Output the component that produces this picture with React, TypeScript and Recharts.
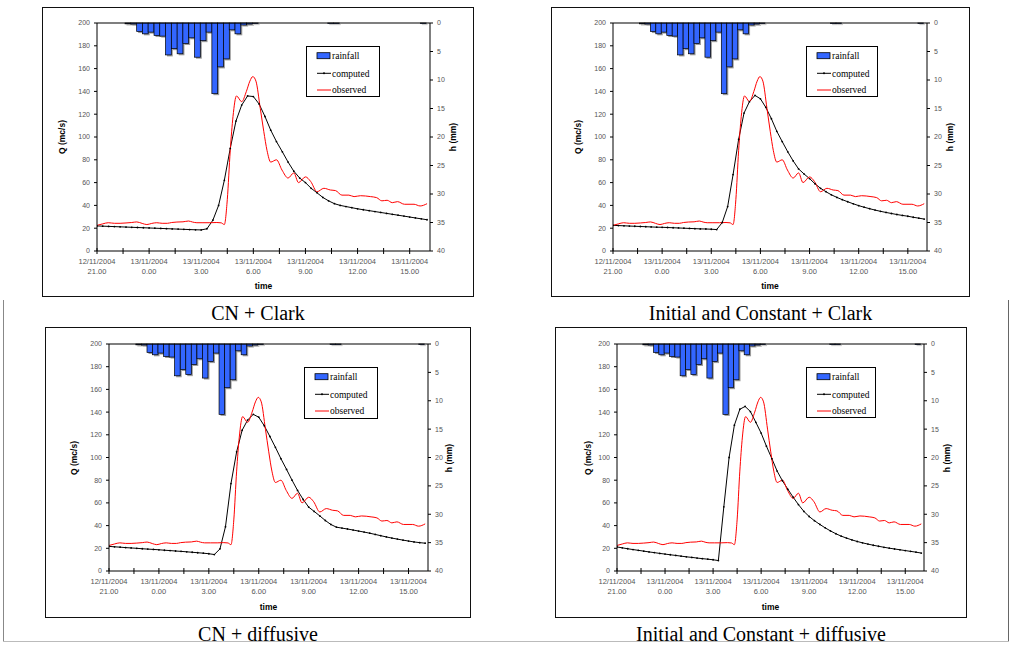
import React from "react";
import { ComposedChart, Bar, Line, XAxis, YAxis, ReferenceLine } from "recharts";

// time axis: hours after 12/11/2004 21.00
const T_END = 19.17;

const xTicks = [0, 1.5, 3, 4.5, 6, 7.5, 9, 10.5, 12, 13.5, 15, 16.5, 18];
const dateLabels = ["12/11/2004", "13/11/2004", "13/11/2004", "13/11/2004", "13/11/2004", "13/11/2004", "13/11/2004"];
const hourLabels = ["21.00", "0.00", "3.00", "6.00", "9.00", "12.00", "15.00"];
const qTicks = [0, 20, 40, 60, 80, 100, 120, 140, 160, 180, 200];
const hTicks = [0, 5, 10, 15, 20, 25, 30, 35, 40];

// rainfall (mm per 20 min)
const rainHours = [1.78, 2.11, 2.45, 2.78, 3.11, 3.45, 3.78, 4.11, 4.45, 4.78, 5.11, 5.45, 5.78, 6.11, 6.45, 6.78, 7.11, 7.45, 7.78, 8.11, 8.45, 8.78, 9.11, 13.45, 13.78, 18.78];
const rainMm = [0.15, 0.2, 1.5, 1.9, 1.6, 2.2, 2.3, 5.6, 4.5, 5.4, 3.6, 2.6, 6.0, 3.1, 1.6, 12.4, 7.7, 6.3, 1.2, 1.9, 0.35, 0.2, 0.1, 0.1, 0.1, 0.1];

// observed discharge (mc/s)
const obsHours = [0, 0.33, 0.65, 1, 1.33, 1.67, 2, 2.29, 2.6, 2.87, 3.15, 3.44, 3.75, 4.05, 4.3, 4.6, 4.95, 5.27, 5.5, 5.75, 6.1, 6.5, 6.9, 7.15, 7.33, 7.5, 7.67, 7.83, 8.03, 8.33, 8.6, 8.8, 8.97, 9.15, 9.4, 9.6, 9.79, 10.0, 10.33, 10.65, 11.0, 11.33, 11.6, 12.0, 12.3, 12.67, 13.06, 13.44, 13.73, 14.1, 14.5, 14.8, 15.17, 15.75, 16.1, 16.4, 16.7, 17.0, 17.3, 17.7, 18.25, 18.6, 19.0];
const obsQ = [22.5, 23.8, 24.8, 24.3, 24.3, 24.6, 25.0, 25.5, 24.2, 23.2, 24.2, 24.8, 24.3, 24.3, 25.0, 25.4, 25.6, 26.3, 25.4, 24.8, 24.8, 24.8, 25.0, 24.7, 23.2, 45, 88, 118, 136, 131, 140, 149, 153, 149, 125, 105, 88, 78, 80, 71, 64, 68.5, 60, 65, 61, 52, 55, 53.5, 53, 49, 49, 47.7, 48.5, 47.7, 46.8, 44, 44.5, 42.4, 43.3, 41, 41, 39.5, 41.5];

// computed discharge, every 20 min
const hours = [0, 0.33, 0.67, 1, 1.33, 1.67, 2, 2.33, 2.67, 3, 3.33, 3.67, 4, 4.33, 4.67, 5, 5.33, 5.67, 6, 6.33, 6.67, 7, 7.33, 7.67, 8, 8.33, 8.67, 9, 9.33, 9.67, 10, 10.33, 10.67, 11, 11.33, 11.67, 12, 12.33, 12.67, 13, 13.33, 13.67, 14, 14.33, 14.67, 15, 15.33, 15.67, 16, 16.33, 16.67, 17, 17.33, 17.67, 18, 18.33, 18.67, 19];
const cnClark = [22.0, 21.8, 21.6, 21.4, 21.2, 21.0, 20.8, 20.6, 20.4, 20.2, 20.0, 19.8, 19.6, 19.4, 19.2, 19.0, 18.8, 18.6, 18.5, 19.5, 27, 40, 62, 90, 114, 128, 136, 135.5, 129, 118, 106, 96, 87, 78, 70, 64, 60, 55, 51, 47, 44, 41.5, 40, 39, 38, 37, 36.2, 35.4, 34.6, 33.8, 33, 32.2, 31.4, 30.6, 29.8, 29, 28.2, 27.4];
const icClark = [22.5, 22.3, 22.1, 21.9, 21.7, 21.5, 21.3, 21.1, 20.9, 20.8, 20.6, 20.4, 20.2, 20.0, 19.8, 19.6, 19.4, 19.3, 19.1, 18.8, 25, 39, 67, 98, 121, 131, 136.5, 133.5, 126, 116, 105, 96, 87, 79, 72, 67.5, 63.5, 59, 55, 52, 49.3, 47, 45, 43.2, 41.4, 39.8, 38.4, 37.1, 35.9, 34.8, 33.8, 32.9, 32, 31.2, 30.5, 29.6, 28.8, 28];
const cnDiffusive = [21.7, 21.3, 21.0, 20.6, 20.3, 20.0, 19.6, 19.3, 19.0, 18.7, 18.3, 18.0, 17.6, 17.3, 16.9, 16.5, 16.1, 15.7, 15.2, 14.5, 19.5, 39, 77, 105, 124, 133, 138, 135.5, 128, 118.5, 109, 99, 89.5, 80, 71, 63, 56.3, 52.5, 48.5, 44.5, 41, 38.6, 37.8, 37, 36.1, 35.2, 34.3, 33.3, 32.2, 31.1, 30, 29, 28.1, 27.2, 26.4, 25.6, 25, 24.5];
const icDiffusive = [21.2, 20.4, 19.6, 18.9, 18.2, 17.5, 16.8, 16.2, 15.5, 14.9, 14.3, 13.7, 13.1, 12.5, 12.0, 11.4, 10.9, 10.4, 9.9, 9.2, 56.5, 100, 128.5, 142.5, 145, 140.5, 131, 121.5, 110, 99, 88, 79.5, 72, 65, 58.5, 52.5, 48, 44.3, 41, 38, 35.3, 32.8, 30.7, 29, 27.4, 26, 24.8, 23.7, 22.7, 21.8, 20.9, 20.1, 19.4, 18.7, 18, 17.3, 16.6, 15.8];

const legendNames = ["rainfall", "computed", "observed"];

const rainData = rainHours.map((t, i) => ({ t, rain: rainMm[i] }));
const observedData = obsHours.map((t, i) => ({ t, q: obsQ[i] }));
const toSeries = (vals: number[]) => hours.map((t, i) => ({ t, q: vals[i] }));

const SANS = "'Liberation Sans', Arial, sans-serif";
const SERIF = "'Liberation Serif', 'Times New Roman', serif";
const BLUE = "#3366ff";

// frame / plot boxes are [left, top, right, bottom] in page pixels
const panels = [
  { caption: "CN + Clark", frame: [42, 7, 474, 297], plot: [97, 23, 430, 251], legend: [306, 46, 74, 51], qX: 62, hX: 453, timeY: 286, values: cnClark },
  { caption: "Initial and Constant + Clark", frame: [551, 7, 970, 297], plot: [613, 23, 927, 251], legend: [806, 46, 72, 51], qX: 578, hX: 950, timeY: 286, values: icClark },
  { caption: "CN + diffusive", frame: [45, 327, 471, 618], plot: [109, 344, 428, 571], legend: [304, 367, 74, 52], qX: 74, hX: 449, timeY: 607, values: cnDiffusive },
  { caption: "Initial and Constant + diffusive", frame: [555, 327, 967, 618], plot: [617, 344, 924, 571], legend: [806, 367, 70, 51], qX: 588, hX: 947, timeY: 607, values: icDiffusive },
];

// bar drawn around the centre Recharts gives, with a 20-minute width
const RainBar = (props: any) => {
  const { x, y, width, height, barW } = props;
  const top = Math.min(y, y + height);
  const h = Math.abs(height);
  if (!h) return null;
  const cx = x + (width || 0) / 2;
  const left = cx - barW / 2;
  return (
    <g>
      <rect x={left + 1.5} y={top + 1.5} width={barW} height={h} fill="#9a9a9a" />
      <rect x={left} y={top} width={barW} height={h} fill={BLUE} stroke="#000" strokeWidth={0.7} />
    </g>
  );
};

const TimeTick = (props: any) => {
  const { x, y, payload } = props;
  const i = xTicks.indexOf(payload.value);
  const labelled = i % 2 === 0;
  return (
    <g>
      <line x1={x} x2={x} y1={y - 3} y2={y + 3} stroke="#000" strokeWidth={1} />
      {labelled && (
        <text x={x} y={y + 13} textAnchor="middle" fontSize={7.5} fill="#555" style={{ fontFamily: SANS }}>
          <tspan x={x}>{dateLabels[i / 2]}</tspan>
          <tspan x={x} dy={10}>{hourLabels[i / 2]}</tspan>
        </text>
      )}
    </g>
  );
};

function LegendBox({ box }: { box: number[] }) {
  const [x, y, w, h] = box;
  const rows = [9.7, 27.3, 44];
  return (
    <svg width={w} height={h} style={{ position: "absolute", left: x, top: y, overflow: "visible" }}>
      <rect x={0.5} y={0.5} width={w - 1} height={h - 1} fill="#fff" stroke="#000" strokeWidth={1} />
      <rect x={11} y={rows[0] - 3} width={13} height={6} fill={BLUE} stroke="#000" strokeWidth={0.8} />
      <line x1={11} x2={25} y1={rows[1]} y2={rows[1]} stroke="#000" />
      <circle cx={18} cy={rows[1]} r={1} fill="#000" />
      <line x1={11} x2={25} y1={rows[2]} y2={rows[2]} stroke="#ff0000" />
      {legendNames.map((n, i) => (
        <text key={n} x={26} y={rows[i] + 3.2} fontSize={9.5} fill="#000" style={{ fontFamily: SERIF }}>
          {n}
        </text>
      ))}
    </svg>
  );
}

function Panel({ p }: { p: (typeof panels)[number] }) {
  const [fl, ft, fr, fb] = p.frame;
  const [pl, pt, pr, pb] = p.plot;
  const w = fr - fl;
  const h = fb - ft;
  const barW = ((pr - pl) / T_END) / 3;
  const axisTitle: React.CSSProperties = {
    position: "absolute",
    fontFamily: SANS,
    fontWeight: "bold",
    fontSize: 8.5,
    whiteSpace: "nowrap",
    color: "#000",
  };
  return (
    <>
      <div style={{ position: "absolute", left: fl, top: ft }}>
        <ComposedChart width={w} height={h} data={rainData} margin={{ top: pt - ft, right: 0, bottom: 0, left: 0 }}>
          <XAxis
            dataKey="t"
            type="number"
            domain={[0, T_END]}
            allowDataOverflow
            ticks={xTicks}
            interval={0}
            tick={<TimeTick />}
            tickLine={false}
            tickSize={0}
            tickMargin={0}
            height={fb - pb}
            axisLine={{ stroke: "#000" }}
          />
          <YAxis
            yAxisId="left"
            domain={[0, 200]}
            ticks={qTicks}
            interval={0}
            width={pl - fl}
            tickSize={3}
            tickMargin={4}
            tick={{ fontSize: 7, fill: "#555", fontFamily: SANS }}
            axisLine={{ stroke: "#000" }}
            tickLine={{ stroke: "#000" }}
          />
          <YAxis
            yAxisId="right"
            orientation="right"
            domain={[0, 40]}
            reversed
            ticks={hTicks}
            interval={0}
            width={fr - pr}
            tickSize={3}
            tickMargin={4}
            tick={{ fontSize: 7, fill: "#555", fontFamily: SANS }}
            axisLine={{ stroke: "#000" }}
            tickLine={{ stroke: "#000" }}
          />
          <Bar
            dataKey="rain"
            yAxisId="right"
            shape={(props: any) => <RainBar {...props} barW={barW} />}
            isAnimationActive={false}
          />
          <ReferenceLine yAxisId="right" y={0} stroke="#000" strokeWidth={1.2} />
          <Line
            data={toSeries(p.values)}
            dataKey="q"
            yAxisId="left"
            type="linear"
            stroke="#000"
            strokeWidth={1}
            dot={{ r: 0.9, fill: "#000", stroke: "none" }}
            isAnimationActive={false}
          />
          <Line
            data={observedData}
            dataKey="q"
            yAxisId="left"
            type="monotone"
            stroke="#ff0000"
            strokeWidth={1}
            dot={false}
            isAnimationActive={false}
          />
        </ComposedChart>
      </div>
      <div
        style={{
          position: "absolute",
          left: fl,
          top: ft,
          width: w,
          height: h,
          boxSizing: "border-box",
          border: "1.5px solid #111",
          pointerEvents: "none",
        }}
      />
      <LegendBox box={p.legend} />
      <div style={{ ...axisTitle, left: p.qX, top: (pt + pb) / 2, transform: "translate(-50%, -50%) rotate(-90deg)" }}>Q (mc/s)</div>
      <div style={{ ...axisTitle, left: p.hX, top: (pt + pb) / 2, transform: "translate(-50%, -50%) rotate(-90deg)" }}>h (mm)</div>
      <div style={{ ...axisTitle, left: (pl + pr) / 2, top: p.timeY, transform: "translate(-50%, -50%)" }}>time</div>
      <div
        style={{
          position: "absolute",
          left: (fl + fr) / 2,
          top: fb + 6,
          transform: "translateX(-50%)",
          fontFamily: SERIF,
          fontSize: 20,
          lineHeight: "20px",
          whiteSpace: "nowrap",
          color: "#000",
        }}
      >
        {p.caption}
      </div>
    </>
  );
}

export default function App() {
  return (
    <div style={{ position: "absolute", left: 0, top: 0, width: 1011, height: 645, background: "#fff", overflow: "hidden" }}>
      <div style={{ position: "absolute", left: 3, top: 300, width: 1, height: 342, background: "#888" }} />
      <div style={{ position: "absolute", left: 1008, top: 300, width: 1, height: 342, background: "#666" }} />
      <div style={{ position: "absolute", left: 3, top: 641, width: 1006, height: 1, background: "#bbb" }} />
      {panels.map((p) => (
        <Panel key={p.caption} p={p} />
      ))}
    </div>
  );
}
